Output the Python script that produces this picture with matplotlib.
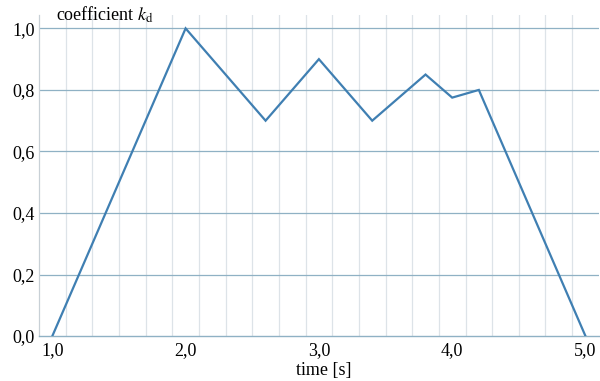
import matplotlib
matplotlib.use("Agg")
import matplotlib.pyplot as plt
import numpy as np

time_s = [1.0, 2.0, 2.6, 3.0, 3.4, 3.8, 4.0, 4.2, 5.0]
kd = [0.0, 1.0, 0.7, 0.9, 0.7, 0.85, 0.775, 0.8, 0.0]
x_ticks = [1.0, 2.0, 3.0, 4.0, 5.0]
x_ticklabels = ["1,0", "2,0", "3,0", "4,0", "5,0"]
y_ticks = [0.0, 0.2, 0.4, 0.6, 0.8, 1.0]
y_ticklabels = ["0,0", "0,2", "0,4", "0,6", "0,8", "1,0"]

plt.rcParams['font.family'] = ['Liberation Serif', 'DejaVu Serif']

fig = plt.figure(figsize=(6.0, 3.81), dpi=100)
ax = fig.add_axes([0.065, 0.118, 0.933, 0.843])

xmin, xmax = 0.9, 5.1
ymin, ymax = 0.0, 1.044
ax.set_xlim(xmin, xmax)
ax.set_ylim(ymin, ymax)

# vertical minor grid lines every 0.2 starting at 0.9
for gx in np.arange(1.1, 5.05, 0.2):
    ax.axvline(gx, color='#dde3e8', lw=0.9, zorder=1)
# horizontal grid lines
for gy in y_ticks[1:]:
    ax.axhline(gy, color='#8fb1c4', lw=0.9, zorder=1)

ax.plot(time_s, kd, color='#3f7fb2', lw=1.6, zorder=3, solid_joinstyle='miter')

ax.set_xticks(x_ticks)
ax.set_xticklabels(x_ticklabels, fontsize=13)
ax.set_yticks(y_ticks)
ax.set_yticklabels(y_ticklabels, fontsize=13)
ax.tick_params(length=0, pad=4)
ax.tick_params(axis='y', pad=3)

for s in ['top', 'right']:
    ax.spines[s].set_visible(False)
ax.spines['left'].set_color('#c8d0d6')
ax.spines['left'].set_linewidth(0.9)
ax.spines['bottom'].set_color('#8fb1c4')
ax.spines['bottom'].set_linewidth(1.0)

fig.text(0.174, 0.962, r"coefficient $k_\mathrm{d}$", fontsize=13, ha='center', va='center',
         math_fontfamily='stix')
fig.text(0.539, 0.027, "time [s]", fontsize=13, ha='center', va='center')

fig.savefig("out.png", dpi=100)
